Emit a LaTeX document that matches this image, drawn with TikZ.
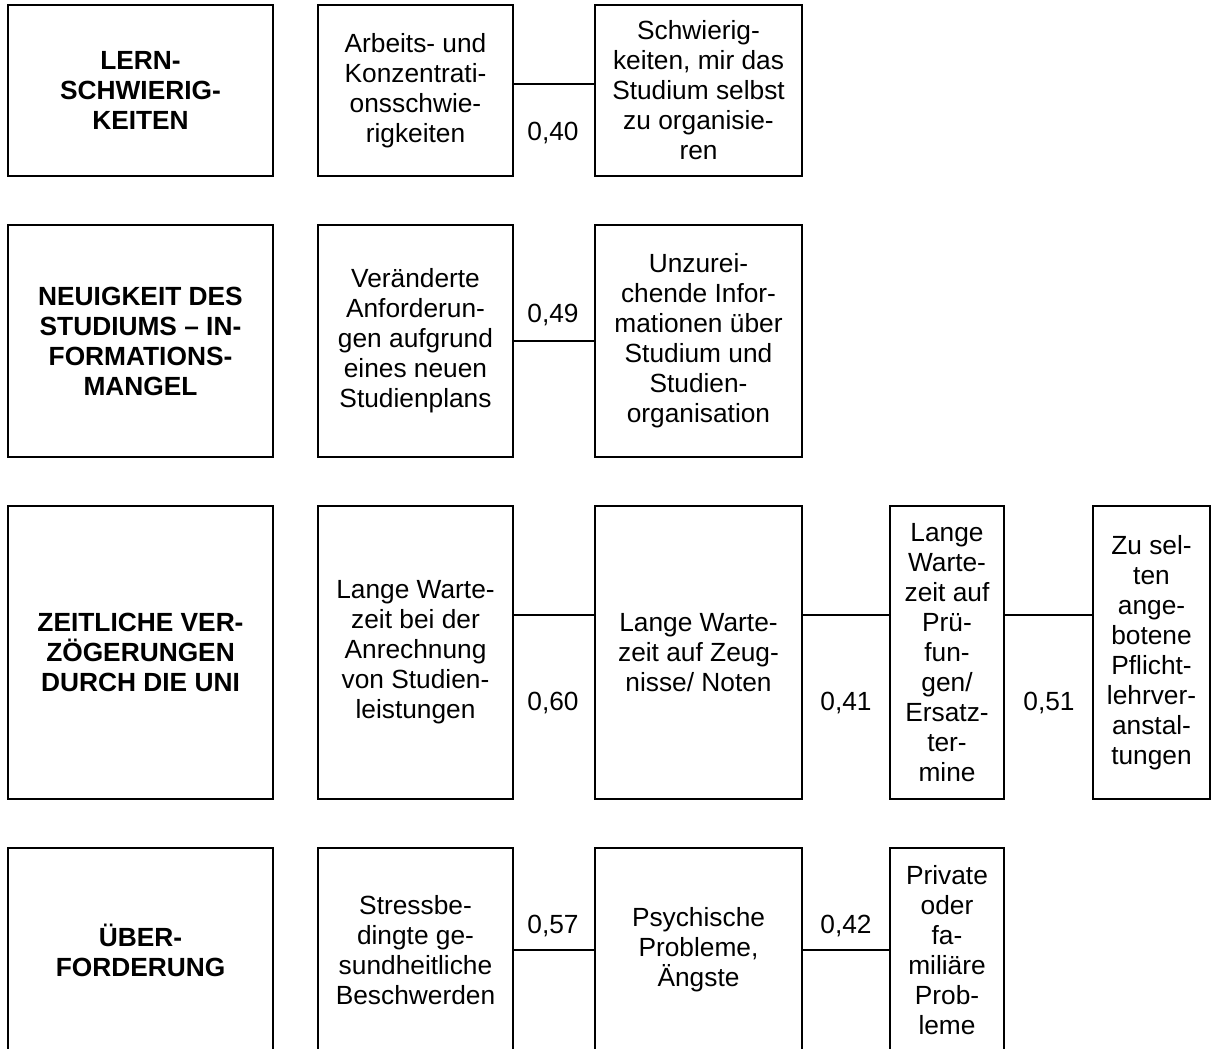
\documentclass[tikz,border=0pt]{standalone}
\usepackage{fontspec}
\setmainfont{Liberation Sans}
\newcommand{\txtsize}{\fontsize{26.3pt}{30pt}\selectfont}

\begin{document}
\begin{tikzpicture}[x=1pt, y=-1pt,
    cat/.style={draw, line width=2pt, inner sep=0pt, align=center, minimum width=265pt, font=\txtsize\bfseries},
    item/.style={draw, line width=2pt, inner sep=0pt, align=center, font=\txtsize},
    link/.style={line width=1.6pt},
    lab/.style={inner sep=0pt, font=\txtsize}
  ]
    \useasboundingbox (0,0) rectangle (1215,1049);

    % Lernschwierigkeiten
    \node[cat, minimum height=171pt] (lern) at (140.5,90.5) {LERN-\\SCHWIERIG-\\KEITEN};
    \node[item, minimum width=195pt, minimum height=171pt] (arbeit) at (415.5,90.5) {Arbeits- und\\Konzentrati-\\onsschwie-\\rigkeiten};
    \node[item, minimum width=207pt, minimum height=171pt] (orga) at (698.5,90.5) {Schwierig-\\keiten, mir das\\Studium selbst\\zu organisie-\\ren};
    \node[lab] (k040) at (553,132.5) {0,40};

    % Neuigkeit des Studiums
    \node[cat, minimum height=232pt] (neu) at (140.5,341) {NEUIGKEIT DES\\STUDIUMS – IN-\\FORMATIONS-\\MANGEL};
    \node[item, minimum width=195pt, minimum height=232pt] (anford) at (415.5,341) {Veränderte\\Anforderun-\\gen aufgrund\\eines neuen\\Studienplans};
    \node[item, minimum width=207pt, minimum height=232pt] (info) at (698.5,341) {Unzurei-\\chende Infor-\\mationen über\\Studium und\\Studien-\\organisation};
    \node[lab] (k049) at (553,314.5) {0,49};

    % Zeitliche Verzoegerungen
    \node[cat, minimum height=293pt] (zeit) at (140.5,652.5) {ZEITLICHE VER-\\ZÖGERUNGEN\\DURCH DIE UNI};
    \node[item, minimum width=195pt, minimum height=293pt] (anrech) at (415.5,652.5) {Lange Warte-\\zeit bei der\\Anrechnung\\von Studien-\\leistungen};
    \node[item, minimum width=207pt, minimum height=293pt] (zeugnis) at (698.5,652.5) {Lange Warte-\\zeit auf Zeug-\\nisse/ Noten};
    \node[item, minimum width=114pt, minimum height=293pt] (pruef) at (947,652.5) {Lange\\Warte-\\zeit auf\\Prü-\\fun-\\gen/\\Ersatz-\\ter-\\mine};
    \node[item, minimum width=117pt, minimum height=293pt] (pflicht) at (1151.5,652.5) {Zu sel-\\ten\\ange-\\botene\\Pflicht-\\lehrver-\\anstal-\\tungen};
    \node[lab] (k060) at (553,703) {0,60};
    \node[lab] (k041) at (846,703) {0,41};
    \node[lab] (k051) at (1049,703) {0,51};

    % Ueberforderung
    \node[cat, minimum height=204pt] (ueber) at (140.5,950) {ÜBER-\\FORDERUNG};
    \node[item, minimum width=195pt, minimum height=204pt] (stress) at (415.5,950) {Stressbe-\\dingte ge-\\sundheitliche\\Beschwerden};
    \node[item, minimum width=207pt, minimum height=204pt] (psych) at (698.5,950) {Psychische\\Probleme,\\Ängste};
    \node[item, minimum width=114pt, minimum height=204pt] (privat) at (947,950) {Private\\oder\\fa-\\miliäre\\Prob-\\leme};
    \node[lab] (k057) at (553,926) {0,57};
    \node[lab] (k042) at (846,926) {0,42};

    \draw[link] ([yshift=6.5pt]arbeit.east) -- ([yshift=6.5pt]orga.west);
    \draw[link] (anford) -- (info);
    \draw[link] ([yshift=37.5pt]anrech.east) -- ([yshift=37.5pt]zeugnis.west);
    \draw[link] ([yshift=37.5pt]zeugnis.east) -- ([yshift=37.5pt]pruef.west);
    \draw[link] ([yshift=37.5pt]pruef.east) -- ([yshift=37.5pt]pflicht.west);
    \draw[link] (stress) -- (psych);
    \draw[link] (psych) -- (privat);
  \end{tikzpicture}
\end{document}
